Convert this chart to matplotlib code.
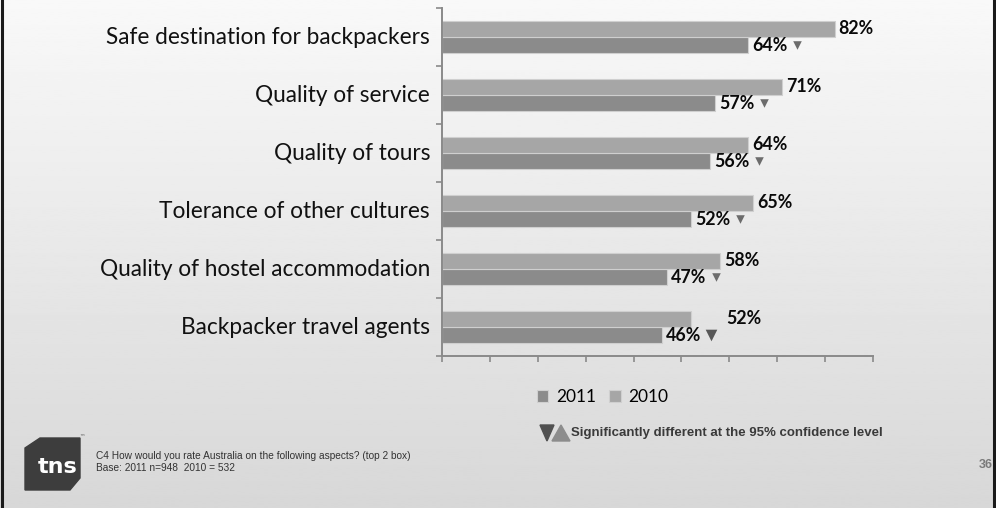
import numpy as np
import matplotlib
matplotlib.use("Agg")
import matplotlib.pyplot as plt
from matplotlib.patches import Polygon

categories = ["Safe destination for backpackers", "Quality of service", "Quality of tours",
              "Tolerance of other cultures", "Quality of hostel accommodation",
              "Backpacker travel agents"]
vals_2010 = [82, 71, 64, 65, 58, 52]
vals_2011 = [64, 57, 56, 52, 47, 46]
series_names = ["2011", "2010"]
footnote = ["C4 How would you rate Australia on the following aspects? (top 2 box)",
            "Base: 2011 n=948  2010 = 532"]
sig_note = "Significantly different at the 95% confidence level"

W, H = 996, 508
fig = plt.figure(figsize=(W / 100, H / 100), dpi=100)

def fx(px):
    return px / W

def fy(py):
    return 1 - py / H

# background gradient
bg = fig.add_axes([0, 0, 1, 1], zorder=-10)
grad = np.linspace(0.975, 0.845, 256).reshape(-1, 1)
bg.imshow(grad, aspect="auto", cmap="gray", vmin=0, vmax=1, extent=[0, 1, 0, 1])
bg.set_axis_off()
# side borders
bg.plot([0.0025, 0.0025], [0, 1], color="#1a1a1a", lw=2.2, transform=fig.transFigure)
bg.plot([0.9975, 0.9975], [0, 1], color="#1a1a1a", lw=2.2, transform=fig.transFigure)

ax = fig.add_axes([fx(442), fy(356), fx(873) - fx(442), (356 - 8) / H])
ax.set_facecolor("none")

y = np.arange(len(categories))[::-1].astype(float)
h = 0.28
c2010 = "#a6a6a6"
c2011 = "#8b8b8b"
b2011 = ax.barh(y - h / 2, vals_2011, height=h, color=c2011, edgecolor="#cfcfcf", linewidth=0.8)
b2010 = ax.barh(y + h / 2, vals_2010, height=h, color=c2010, edgecolor="#cfcfcf", linewidth=0.8)

lab_font = "Lato"
for i, (yy, v10, v11) in enumerate(zip(y, vals_2010, vals_2011)):
    ax.annotate(categories[i], xy=(0, yy), xytext=(-12, 0), textcoords="offset pixels",
                ha="right", va="center", fontsize=16.3, family=lab_font, color="#111111")
    x10 = v10
    if i == len(categories) - 1:
        x10 = v11 + 12.5
    ax.annotate(f"{v10}%", xy=(x10, yy + h / 2), xytext=(4, 0), textcoords="offset pixels",
                ha="left", va="center", fontsize=12.8, fontweight="bold", family=lab_font,
                color="#0a0a0a")
    ax.annotate(f"{v11}%", xy=(v11, yy - h / 2), xytext=(4, 0), textcoords="offset pixels",
                ha="left", va="center", fontsize=12.8, fontweight="bold", family=lab_font,
                color="#0a0a0a")
    big = i == len(categories) - 1
    ax.scatter([v11 + 10.2], [yy - h / 2], marker="v", s=70 if big else 38,
               color="#575757" if big else "#6c6c6c", linewidths=0, zorder=5)

ax.set_xlim(0, 90)
ax.set_ylim(-0.5, len(categories) - 0.5)
ax.set_xticks(np.arange(0, 91, 10))
ax.set_yticks(np.arange(-0.5, len(categories), 1.0))
ax.set_xticklabels([])
ax.set_yticklabels([])
ax.tick_params(axis="both", direction="out", length=4, width=1.2, color="#8a8a8a")
for s in ["top", "right"]:
    ax.spines[s].set_visible(False)
for s in ["left", "bottom"]:
    ax.spines[s].set_color("#8a8a8a")
    ax.spines[s].set_linewidth(1.4)

fig.legend([b2011, b2010], series_names, loc="center left",
           bbox_to_anchor=(fx(525), fy(397)), ncol=2, frameon=False,
           prop={"family": lab_font, "size": 12.5}, handlelength=0.65, handleheight=0.65,
           handletextpad=0.45, columnspacing=0.75, borderpad=0.2)

# significance note
fig.patches.append(Polygon([(fx(540), fy(425)), (fx(554), fy(425)), (fx(547), fy(441))],
                           closed=True, color="#505050", transform=fig.transFigure))
fig.patches.append(Polygon([(fx(552), fy(441)), (fx(570), fy(441)), (fx(561), fy(425))],
                           closed=True, color="#8c8c8c", transform=fig.transFigure))
fig.text(fx(571), fy(433), sig_note, ha="left", va="center", fontsize=9.5,
         fontweight="bold", family="Liberation Sans", color="#3a3a3a")

# tns logo
fig.patches.append(Polygon([(fx(40), fy(438)), (fx(80), fy(438)), (fx(80), fy(478)),
                            (fx(70), fy(490)), (fx(25), fy(490)), (fx(25), fy(448))],
                           closed=True, color="#3d3d3d", transform=fig.transFigure))
fig.text(fx(58), fy(467), "tns", ha="center", va="center", fontsize=16,
         fontweight="bold", family="DejaVu Sans", color="white")
fig.text(fx(82), fy(437), "™", ha="center", va="center", fontsize=4, color="#555555")

fig.text(fx(96), fy(456), footnote[0], ha="left", va="center", fontsize=7.25,
         family="Liberation Sans", color="#333333")
fig.text(fx(96), fy(468), footnote[1], ha="left", va="center", fontsize=7.25,
         family="Liberation Sans", color="#333333")
fig.text(fx(986), fy(465), "36", ha="center", va="center", fontsize=9,
         fontweight="bold", family="Liberation Sans", color="#7a7a7a")

fig.savefig("out.png", dpi=100)
